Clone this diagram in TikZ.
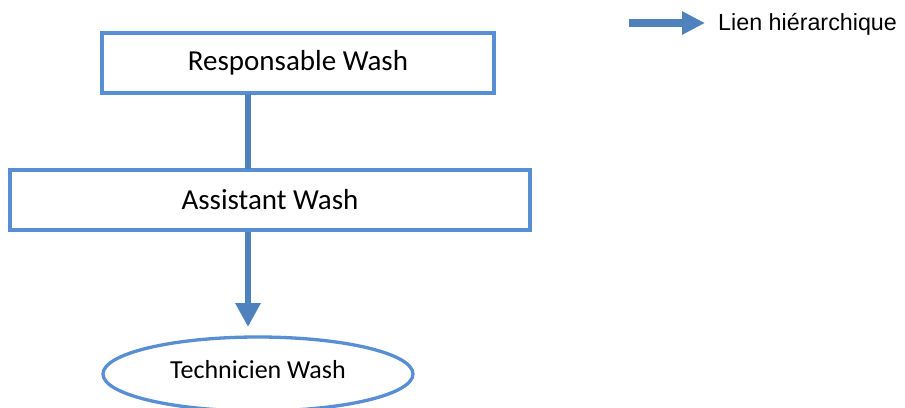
\documentclass[tikz,border=0pt]{standalone}
\usepackage{fontspec}
\setmainfont{Carlito}
\newfontfamily\legendfont{Liberation Sans}
\usetikzlibrary{arrows.meta,shapes.geometric}
\definecolor{boxblue}{RGB}{88,142,212}
\definecolor{linkblue}{RGB}{79,129,189}
\tikzset{
  orgbox/.style={draw=boxblue, line width=3.3pt, fill=white, rectangle, inner sep=0pt, outer sep=0pt, font=\fontsize{29}{34}\selectfont},
  orgell/.style={draw=boxblue, line width=3.3pt, fill=white, ellipse, inner sep=0pt, outer sep=0pt, minimum width=310pt, minimum height=74pt, font=\fontsize{26}{31}\selectfont},
  link/.style={draw=linkblue, line width=6.5pt},
  linkarrow/.style={link, -{Triangle[width=24pt,length=24pt]}},
}
\begin{document}
\begin{tikzpicture}[x=1pt,y=-1pt]
\clip (0,0) rectangle (905,407);
\useasboundingbox (0,0) rectangle (905,407);
\node[orgbox, minimum width=392pt, minimum height=60pt] (resp) at (298,63) {Responsable Wash};
\node[orgbox, minimum width=520pt, minimum height=60pt] (asst) at (270,200) {Assistant Wash};
\node[orgell] (tech) at (258,374) {};
\node[font=\fontsize{26}{31}\selectfont] (techtxt) at (258,370) {Technicien Wash};
\coordinate (a1) at (248,93.5);
\coordinate (a2) at (248,168.5);
\draw[link] (a1) -- (a2);
\coordinate (b1) at (248,231.5);
\coordinate (b2) at ([yshift=10pt]tech.north -| b1);
\draw[linkarrow] (b1) -- (b2);
\coordinate (la) at (629,23);
\coordinate (lb) at (705,23);
\draw[link, line width=8pt, -{Triangle[width=22pt,length=23pt]}] (la) -- (lb);
\node[anchor=west, inner sep=0pt, font=\legendfont\fontsize{23.3}{28}\selectfont] (legtxt) at (718,24.5) {Lien hiérarchique};
\end{tikzpicture}
\end{document}
